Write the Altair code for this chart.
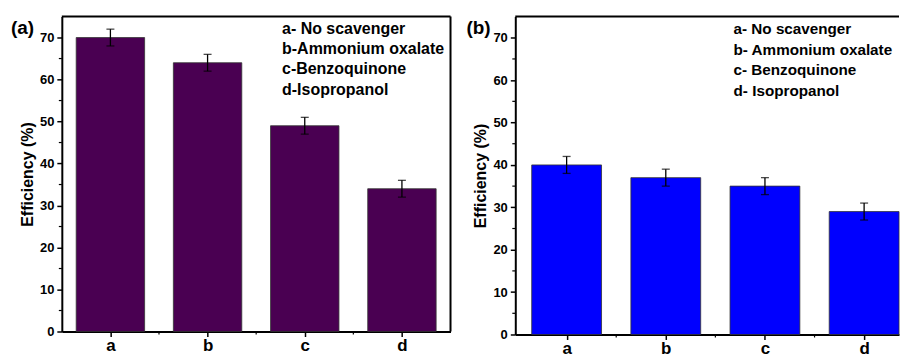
import altair as alt
import pandas as pd

categories = ["a", "b", "c", "d"]
eff_a = [70, 64, 49, 34]
eff_b = [40, 37, 35, 29]
err_a = [2, 2, 2, 2]
err_b = [2, 2, 2, 2]
legend_a = ["a- No scavenger", "b-Ammonium oxalate", "c-Benzoquinone", "d-Isopropanol"]
legend_b = ["a- No scavenger", "b- Ammonium oxalate", "c- Benzoquinone", "d- Isopropanol"]
y_ticks = [0, 10, 20, 30, 40, 50, 60, 70]
y_minor = [5, 15, 25, 35, 45, 55, 65]

FONT = "Liberation Sans"
label_expr = "[" + ",".join("'%s'" % c for c in categories) + "][datum.value - 1]"


def panel(vals, errs, color, legend_lines, tag, width, height, xdom, tag_x, leg_x, leg_y,
          leg_size, right_frame):
    df = pd.DataFrame({
        "cat": categories,
        "pos": list(range(1, len(categories) + 1)),
        "eff": vals,
        "err": errs,
    })
    df["lo"] = df["eff"] - df["err"]
    df["hi"] = df["eff"] + df["err"]
    df["x0"] = df["pos"] - 0.352
    df["x1"] = df["pos"] + 0.352
    df["zero"] = 0

    xscale = alt.Scale(domain=xdom, nice=False, zero=False)
    yscale = alt.Scale(domain=[0, 75], nice=False)
    base = alt.Chart(df)

    bars = base.mark_bar(color=color, stroke="#333333", strokeWidth=0.8).encode(
        x=alt.X("x0:Q", scale=xscale,
                axis=alt.Axis(values=[1, 2, 3, 4], labelExpr=label_expr, title=None,
                              grid=False, domainColor="black", domainWidth=2,
                              tickColor="black", tickWidth=1.5, tickSize=5,
                              labelFont=FONT, labelFontSize=17, labelFontWeight="bold",
                              labelColor="black", labelPadding=1)),
        x2="x1:Q",
        y=alt.Y("eff:Q", scale=yscale,
                axis=alt.Axis(values=y_ticks, title="Efficiency (%)", grid=False,
                              domainColor="black", domainWidth=2,
                              tickColor="black", tickWidth=1.5, tickSize=5,
                              labelFont=FONT, labelFontSize=13, labelFontWeight="bold",
                              labelColor="black", labelPadding=3,
                              titleFont=FONT, titleFontSize=16, titleFontWeight="bold",
                              titleColor="black", titlePadding=4)),
        y2="zero:Q",
    )
    rules = base.mark_rule(color="black", strokeWidth=1.3).encode(
        x="pos:Q", y="lo:Q", y2="hi:Q")
    cap_lo = base.mark_tick(color="black", orient="horizontal", size=8, thickness=1.3).encode(
        x="pos:Q", y="lo:Q")
    cap_hi = base.mark_tick(color="black", orient="horizontal", size=8, thickness=1.3).encode(
        x="pos:Q", y="hi:Q")

    minor_y = alt.Chart(pd.DataFrame({"v": y_minor})).mark_rule(
        color="black", strokeWidth=1.2).encode(
        y="v:Q", x=alt.value(-3), x2=alt.value(0))
    mids = [p + 0.5 for p in range(1, len(categories))]
    minor_x = alt.Chart(pd.DataFrame({"m": mids})).mark_rule(
        color="black", strokeWidth=1.2).encode(
        x="m:Q", y=alt.value(height), y2=alt.value(height + 3))

    info = alt.Chart(pd.DataFrame({"k": [0]}))
    top_frame = info.mark_rule(color="black", strokeWidth=2).encode(
        x=alt.value(0), x2=alt.value(width), y=alt.value(0))
    layers = [bars, rules, cap_lo, cap_hi, minor_y, minor_x, top_frame]
    if right_frame:
        layers.append(info.mark_rule(color="black", strokeWidth=2).encode(
            x=alt.value(width), y=alt.value(0), y2=alt.value(height)))
    legend = info.mark_text(
        font=FONT, fontSize=leg_size, fontWeight="bold", color="black",
        align="left", baseline="alphabetic", lineHeight=20.5, clip=True,
    ).encode(x=alt.value(leg_x), y=alt.value(leg_y), text=alt.value(legend_lines))
    tag_mark = info.mark_text(
        font=FONT, fontSize=19, fontWeight="bold", color="black",
        align="left", baseline="alphabetic",
    ).encode(x=alt.value(tag_x), y=alt.value(18), text=alt.value(tag))
    layers += [legend, tag_mark]

    return alt.layer(*layers).properties(width=width, height=height)


pa = panel(eff_a, err_a, "#4A0052", legend_a, "(a)", 390, 316, [0.5, 4.5],
           -51, 221, 17, 16, True)
pb = panel(eff_b, err_b, "#0000FF", legend_b, "(b)", 385, 319, [0.4824, 4.3518],
           -49, 219, 18, 15.3, False)

chart = alt.hconcat(pa, pb, spacing=15).properties(
    padding={"left": 3, "top": 7, "right": 0, "bottom": 0},
    background="white",
).configure_view(stroke=None)

chart.save("out.html", embed_options={"renderer": "svg", "actions": False})
